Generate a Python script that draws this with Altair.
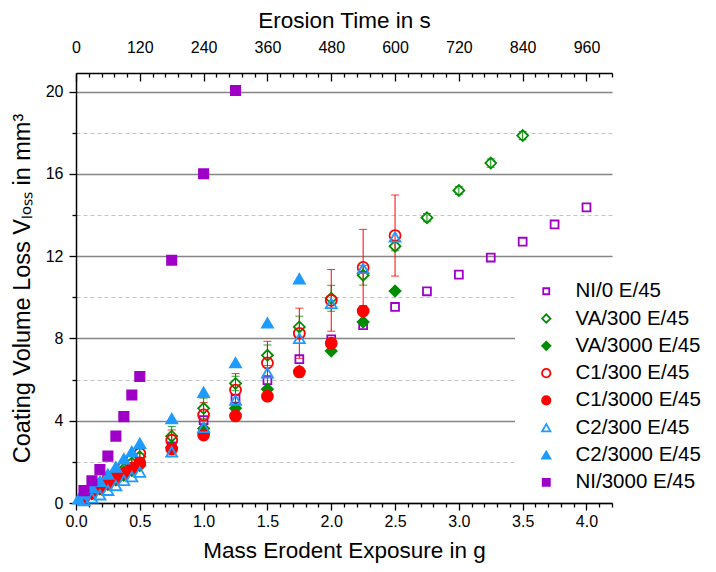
import altair as alt
import pandas as pd

SERIES = ["NI/0 E/45", "VA/300 E/45", "VA/3000 E/45", "C1/300 E/45",
          "C1/3000 E/45", "C2/300 E/45", "C2/3000 E/45", "NI/3000 E/45"]
PURPLE, GREEN, RED, BLUE = "#9E00C8", "#008C00", "#FF0000", "#1E9BFF"
STROKES = [PURPLE, GREEN, GREEN, RED, RED, BLUE, BLUE, PURPLE]
FILLS = ["transparent", "transparent", GREEN, "transparent", RED, "transparent", BLUE, PURPLE]
SQ_OPEN = "M-0.72,-0.72H0.72V0.72H-0.72Z"
SQ_FILL = "M-0.85,-0.85H0.85V0.85H-0.85Z"
SHAPES = [SQ_OPEN, "diamond", "diamond", "circle", "circle", "triangle-up", "triangle-up", SQ_FILL]

# mass erodent exposure (g) and coating volume loss (mm3)
ni0_m = [0.75, 1.0, 1.25, 1.5, 1.75, 2.0, 2.25, 2.5, 2.75, 3.0, 3.25, 3.5, 3.75, 4.0]
ni0_v = [2.75, 4.03, 5.07, 5.97, 6.99, 7.96, 8.64, 9.53, 10.29, 11.10, 11.93, 12.70, 13.54, 14.37]

va300_m = [0.0625, 0.125, 0.1875, 0.25, 0.3125, 0.375, 0.4375, 0.5, 0.75, 1.0, 1.25,
           1.5, 1.75, 2.0, 2.25, 2.5, 2.75, 3.0, 3.25, 3.5]
va300_v = [0.28, 0.55, 0.82, 1.10, 1.38, 1.65, 1.95, 2.25, 3.25, 4.60, 5.81,
           7.18, 8.56, 9.95, 11.07, 12.48, 13.87, 15.19, 16.52, 17.86]
va300_e = [0.08, 0.08, 0.10, 0.10, 0.12, 0.12, 0.15, 0.15, 0.47, 0.50, 0.35,
           0.50, 0.52, 0.63, 0.48, 0.22, 0.20, 0.20, 0.20, 0.20]

va3000_m = [0.0625, 0.125, 0.1875, 0.25, 0.3125, 0.375, 0.4375, 0.5, 0.75, 1.0, 1.25,
            1.5, 1.75, 2.0, 2.25, 2.5]
va3000_v = [0.22, 0.45, 0.68, 0.90, 1.12, 1.35, 1.58, 1.82, 2.70, 3.62, 4.60,
            5.53, 6.40, 7.39, 8.80, 10.30]

c1300_m = [0.0625, 0.125, 0.1875, 0.25, 0.3125, 0.375, 0.4375, 0.5, 0.75, 1.0, 1.25,
           1.5, 1.75, 2.0, 2.25, 2.5]
c1300_v = [0.30, 0.60, 0.90, 1.20, 1.45, 1.76, 2.09, 2.40, 3.05, 4.28, 5.49,
           6.81, 8.25, 9.85, 11.45, 13.00]
c1300_e = [0.12, 0.12, 0.15, 0.15, 0.18, 0.18, 0.20, 0.22, 0.50, 0.60, 0.80,
           1.05, 1.22, 1.50, 1.85, 1.97]

c13000_m = [0.0625, 0.125, 0.1875, 0.25, 0.3125, 0.375, 0.4375, 0.5, 0.75, 1.0, 1.25,
            1.5, 1.75, 2.0, 2.25]
c13000_v = [0.24, 0.48, 0.72, 0.97, 1.20, 1.45, 1.70, 1.95, 2.62, 3.30, 4.23,
            5.19, 6.37, 7.77, 9.33]

c2300_m = [0.0625, 0.125, 0.1875, 0.25, 0.3125, 0.375, 0.4375, 0.5, 0.75, 1.0, 1.25,
           1.5, 1.75, 2.0, 2.25, 2.5]
c2300_v = [0.12, 0.25, 0.40, 0.62, 0.85, 1.10, 1.28, 1.50, 2.49, 3.68, 5.00,
           6.33, 8.00, 9.70, 11.40, 12.93]

c23000_m = [0.02, 0.0625, 0.125, 0.1875, 0.25, 0.3125, 0.375, 0.4375, 0.5, 0.75, 1.0,
            1.25, 1.5, 1.75]
c23000_v = [0.20, 0.45, 0.75, 1.05, 1.40, 1.75, 2.15, 2.50, 2.90, 4.10, 5.38,
            6.82, 8.75, 10.90]

ni3000_m = [0.0625, 0.125, 0.1875, 0.25, 0.3125, 0.375, 0.4375, 0.5, 0.75, 1.0, 1.25]
ni3000_v = [0.60, 1.08, 1.62, 2.28, 3.25, 4.20, 5.25, 6.15, 11.80, 16.00, 20.05]

SECONDS_PER_GRAM = 240

pairs = [(ni0_m, ni0_v), (va300_m, va300_v), (va3000_m, va3000_v), (c1300_m, c1300_v),
         (c13000_m, c13000_v), (c2300_m, c2300_v), (c23000_m, c23000_v), (ni3000_m, ni3000_v)]
rows = []
for name, (ms, vs) in zip(SERIES, pairs):
    for m, v in zip(ms, vs):
        rows.append({"series": name, "m": m, "v": v})
pts = pd.DataFrame(rows)
pts["order"] = pts["series"].map({s: i for i, s in enumerate(SERIES)})

err_rows = []
for name, ms, vs, es in [("VA/300 E/45", va300_m, va300_v, va300_e),
                         ("C1/300 E/45", c1300_m, c1300_v, c1300_e)]:
    for m, v, e in zip(ms, vs, es):
        err_rows.append({"series": name, "m": m, "lo": v - e, "hi": v + e})
errs = pd.DataFrame(err_rows)

FONT = "Liberation Sans"
x_minor = [round(i * 0.1, 1) for i in range(0, 43)]
t_minor = [i * 24 for i in range(0, 43)]
y_minor = list(range(0, 21, 2))

x_enc = alt.X("m:Q", scale=alt.Scale(domain=[0, 4.2], nice=False, zero=False),
              axis=alt.Axis(title="Mass Erodent Exposure in g", values=x_minor,
                            labelExpr="abs(datum.value*2-round(datum.value*2))<0.001 ? format(datum.value,'.1f') : ''",
                            tickSize={"condition": {"test": "abs(datum.value*2-round(datum.value*2))<0.001", "value": 7}, "value": 4},
                            grid=False, labelFlush=False, labelOverlap=False,
                            labelPadding=3, titlePadding=10))
y_enc = alt.Y("v:Q", scale=alt.Scale(domain=[0, 20.9], nice=False),
              axis=alt.Axis(title="Coating Volume Loss Vₗₒₛₛ in mm³", values=y_minor,
                            labelExpr="datum.value % 4 == 0 ? datum.value : ''",
                            tickSize={"condition": {"test": "datum.value % 4 == 0", "value": 7}, "value": 4},
                            grid=True,
                            gridColor={"condition": {"test": "datum.value % 4 == 0", "value": "#858585"}, "value": "#c4c4c4"},
                            gridDash={"condition": {"test": "datum.value % 4 == 0", "value": []}, "value": [4, 3]},
                            gridWidth={"condition": {"test": "datum.value % 4 == 0", "value": 1.3}, "value": 1},
                            titleFontSize=23.5,
                            labelFlush=False, labelOverlap=False, labelPadding=6, titlePadding=11))

base_err = alt.Chart(errs)
err_layers = []
for name, col in [("VA/300 E/45", GREEN), ("C1/300 E/45", RED)]:
    b = base_err.transform_filter(alt.datum.series == name)
    err_layers.append(b.mark_rule(color=col, strokeWidth=1).encode(x=x_enc, y=y_enc, y2="hi:Q")
                      .transform_calculate(v="datum.lo"))
    err_layers.append(b.mark_tick(color=col, orient="horizontal", size=8, thickness=1, opacity=0.8)
                      .transform_calculate(v="datum.lo").encode(x=x_enc, y=y_enc))
    err_layers.append(b.mark_tick(color=col, orient="horizontal", size=8, thickness=1, opacity=0.8)
                      .transform_calculate(v="datum.hi").encode(x=x_enc, y=y_enc))

points = alt.Chart(pts).mark_point(filled=True, size=120, strokeWidth=1.8, opacity=1).encode(
    x=x_enc, y=y_enc,
    stroke=alt.Stroke("series:N", scale=alt.Scale(domain=SERIES, range=STROKES), title=None),
    fill=alt.Fill("series:N", scale=alt.Scale(domain=SERIES, range=FILLS), title=None),
    shape=alt.Shape("series:N", scale=alt.Scale(domain=SERIES, range=SHAPES), title=None),
    order=alt.Order("order:Q"),
)

main = alt.layer(*err_layers, points)

top = alt.Chart(pts).transform_calculate(t=f"datum.m*{SECONDS_PER_GRAM}").mark_point(opacity=0).encode(
    x=alt.X("t:Q", scale=alt.Scale(domain=[0, 4.2 * SECONDS_PER_GRAM], nice=False, zero=False),
            axis=alt.Axis(orient="top", title="Erosion Time in s", values=t_minor,
                          labelExpr="datum.value % 120 == 0 ? datum.value : ''",
                          tickSize=alt.ExprRef(expr="datum.value % 120 == 0 ? -8 : -4"),
                          grid=False, labelFlush=False, labelOverlap=False,
                          labelPadding=26, titlePadding=3)),
    y=y_enc,
)

chart = alt.layer(main, top).resolve_scale(x="independent").properties(
    width=536, height=430,
    autosize=alt.AutoSizeParams(type="none"),
    padding={"left": 68, "top": 65, "right": 96, "bottom": 61},
).configure_view(stroke=None).configure_axis(
    labelFont=FONT, titleFont=FONT, labelFontSize=16, titleFontSize=22.5,
    labelColor="black", titleColor="black", titleFontWeight="normal",
    domainColor="black", domainWidth=1.5, tickColor="black", tickWidth=1.3,
).configure_legend(
    orient="none", legendX=439, legendY=202, padding=6, fillColor="white",
    symbolOffset=15, labelFont=FONT, labelFontSize=20.5, labelColor="black",
    labelOffset=19, rowPadding=6.3, symbolSize=70, symbolStrokeWidth=1.8,
)

chart.save("out.html", embed_options={"renderer": "svg", "actions": False})
